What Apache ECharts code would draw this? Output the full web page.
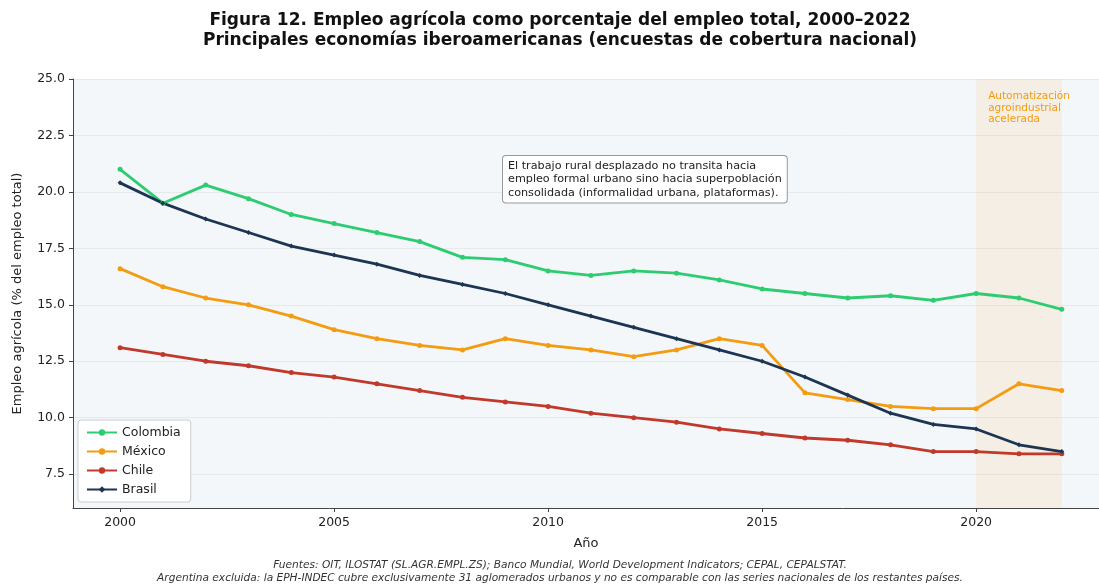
<!DOCTYPE html>
<html>
<head>
<meta charset="utf-8">
<script src="https://cdn.jsdelivr.net/npm/echarts@6/dist/echarts.min.js"></script>
<style>
  html, body { margin: 0; padding: 0; background: #ffffff; }
  #content { width: 1099px; height: 585px; }
</style>
</head>
<body>
<div id="content"></div>
<script>
// data
const years = [2000, 2001, 2002, 2003, 2004, 2005, 2006, 2007, 2008, 2009, 2010,
  2011, 2012, 2013, 2014, 2015, 2016, 2017, 2018, 2019, 2020, 2021, 2022]
const colombia = [21.0, 19.5, 20.3, 19.7, 19.0, 18.6, 18.2, 17.8, 17.1, 17.0, 16.5,
  16.3, 16.5, 16.4, 16.1, 15.7, 15.5, 15.3, 15.4, 15.2, 15.5, 15.3, 14.8]
const mexico = [16.6, 15.8, 15.3, 15.0, 14.5, 13.9, 13.5, 13.2, 13.0, 13.5, 13.2,
  13.0, 12.7, 13.0, 13.5, 13.2, 11.1, 10.8, 10.5, 10.4, 10.4, 11.5, 11.2]
const chile = [13.1, 12.8, 12.5, 12.3, 12.0, 11.8, 11.5, 11.2, 10.9, 10.7, 10.5,
  10.2, 10.0, 9.8, 9.5, 9.3, 9.1, 9.0, 8.8, 8.5, 8.5, 8.4, 8.4]
const brasil = [20.4, 19.5, 18.8, 18.2, 17.6, 17.2, 16.8, 16.3, 15.9, 15.5, 15.0,
  14.5, 14.0, 13.5, 13.0, 12.5, 11.8, 11.0, 10.2, 9.7, 9.5, 8.8, 8.5]
const yTicks = [7.5, 10.0, 12.5, 15.0, 17.5, 20.0, 22.5, 25.0]
const xTicks = [2000, 2005, 2010, 2015, 2020]
const shadedRange = [2020, 2022]

const font = 'DejaVu Sans'

function pairs(values) {
  return years.map((y, i) => [y, values[i]])
}

function line(name, values, color, symbol) {
  return {
    name: name,
    type: 'line',
    data: pairs(values),
    symbol: symbol,
    symbolSize: 5,
    showSymbol: true,
    lineStyle: {color: color, width: 2.8},
    itemStyle: {color: color},
    emphasis: {disabled: true},
    z: 3
  }
}

const myChart = echarts.init(document.querySelector('#content'))

const series = [
  line('Colombia', colombia, '#2ecc71', 'circle'),
  line('México', mexico, '#f39c12', 'circle'),
  line('Chile', chile, '#c0392b', 'circle'),
  line('Brasil', brasil, '#1c3553', 'diamond')
]

// shaded period + its label
series[0].markArea = {
  silent: true,
  itemStyle: {color: 'rgba(243,156,18,0.09)'},
  label: {
    show: true,
    position: 'insideTopLeft',
    offset: [7, 7],
    color: '#f39c12',
    fontFamily: font,
    fontSize: 10.5,
    lineHeight: 11.5,
    formatter: 'Automatización\nagroindustrial\nacelerada'
  },
  data: [[{xAxis: shadedRange[0], yAxis: 25}, {xAxis: shadedRange[1], yAxis: 6}]]
}

myChart.setOption({
  animation: false,
  textStyle: {fontFamily: font},
  grid: {
    left: 73,
    right: 0,
    top: 79,
    bottom: 77,
    show: true,
    backgroundColor: '#f4f7fa',
    borderWidth: 0
  },
  legend: {
    orient: 'vertical',
    left: 78,
    top: 420,
    backgroundColor: '#ffffff',
    borderColor: '#cccccc',
    borderWidth: 1,
    borderRadius: 3,
    padding: [6, 10, 6, 8],
    itemWidth: 30,
    itemHeight: 8,
    itemGap: 6,
    textStyle: {fontFamily: font, fontSize: 12.5, color: '#222'},
    data: ['Colombia', 'México', 'Chile', 'Brasil']
  },
  xAxis: {
    type: 'value',
    min: 1998.9,
    max: 2022.87,
    name: 'Año',
    nameLocation: 'middle',
    nameGap: 29,
    nameTextStyle: {fontFamily: font, fontSize: 13, color: '#222'},
    axisLine: {show: true, lineStyle: {color: '#444', width: 1}},
    axisTick: {show: true, length: 4, customValues: xTicks, lineStyle: {color: '#444'}},
    axisLabel: {
      customValues: xTicks,
      margin: 8,
      fontFamily: font,
      fontSize: 12.5,
      color: '#222',
      formatter: v => String(v)
    },
    splitLine: {show: false}
  },
  yAxis: {
    type: 'value',
    min: 6,
    max: 25,
    name: 'Empleo agrícola (% del empleo total)',
    nameLocation: 'middle',
    nameGap: 49,
    nameTextStyle: {fontFamily: font, fontSize: 13, color: '#222'},
    axisLine: {show: true, lineStyle: {color: '#444', width: 1}},
    axisTick: {show: true, length: 4, customValues: yTicks, lineStyle: {color: '#444'}},
    axisLabel: {
      customValues: yTicks,
      margin: 8,
      fontFamily: font,
      fontSize: 12.5,
      color: '#222',
      formatter: v => v.toFixed(1)
    },
    splitLine: {show: true, lineStyle: {color: '#e3e6ea', width: 0.8}}
  },
  graphic: [
    {
      type: 'text',
      x: 560,
      y: 11,
      style: {
        text: 'Figura 12. Empleo agrícola como porcentaje del empleo total, 2000–2022\nPrincipales economías iberoamericanas (encuestas de cobertura nacional)',
        textAlign: 'center',
        font: 'bold 17px "DejaVu Sans"',
        lineHeight: 20,
        fill: '#111'
      }
    },
    {
      type: 'text',
      x: 503,
      y: 156,
      z: 10,
      style: {
        text: 'El trabajo rural desplazado no transita hacia\nempleo formal urbano sino hacia superpoblación\nconsolidada (informalidad urbana, plataformas).',
        font: '11.2px "DejaVu Sans"',
        lineHeight: 13.5,
        fill: '#222',
        backgroundColor: '#ffffff',
        borderColor: '#999999',
        borderWidth: 1,
        borderRadius: 3,
        padding: [3, 5, 3, 5]
      }
    },
    {
      type: 'text',
      x: 560,
      y: 559,
      style: {
        text: 'Fuentes: OIT, ILOSTAT (SL.AGR.EMPL.ZS); Banco Mundial, World Development Indicators; CEPAL, CEPALSTAT.\nArgentina excluida: la EPH-INDEC cubre exclusivamente 31 aglomerados urbanos y no es comparable con las series nacionales de los restantes países.',
        textAlign: 'center',
        font: 'italic 10.6px "DejaVu Sans"',
        lineHeight: 13,
        fill: '#333'
      }
    }
  ],
  series: series
})
</script>
</body>
</html>
